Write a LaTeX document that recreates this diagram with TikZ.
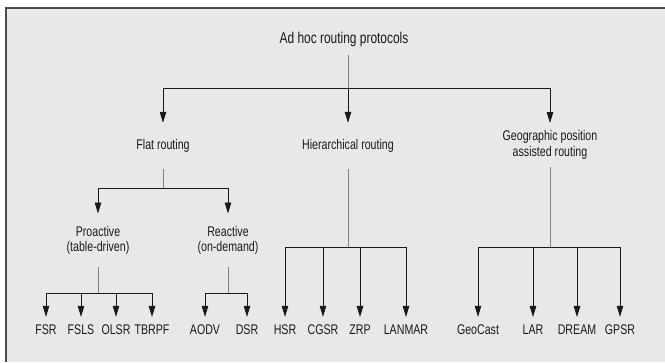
\documentclass[tikz,border=0pt]{standalone}
\usepackage{fontspec}
\setmainfont{Liberation Sans}[FakeStretch=0.76]
\usetikzlibrary{arrows.meta}

\definecolor{panel}{HTML}{E8E8E8}
\definecolor{inkgray}{HTML}{1A1A1A}

\tikzset{
  lbl/.style={font=\fontsize{14pt}{15.5pt}\selectfont, text=inkgray, align=center, inner xsep=0pt},
  toplbl/.style={lbl, font=\fontsize{15.7pt}{17pt}\selectfont, inner ysep=8pt},
  midlbl/.style={lbl, inner ysep=16.5pt},
  geolbl/.style={lbl, inner ysep=7.5pt},
  sublbl/.style={lbl, inner ysep=12.5pt},
  leaf/.style={lbl, inner ysep=8pt},
  stem/.style={draw=black!50, line width=0.8pt},
  arr/.style={draw=black!90, line width=0.8pt, -{Triangle[length=11pt,width=6.5pt]}},
}

\begin{document}
\begin{tikzpicture}[x=1pt,y=-1pt,line join=miter]
      \useasboundingbox (0,0) rectangle (665,362);
      % panel
      \fill[panel] (6,8) rectangle (665,362);
      \draw[black!70, line width=1.2pt] (6,362)--(6,8)--(665,8);

      % text
      \node[toplbl] (root) at (344,39) {Ad hoc routing protocols};
      \node[midlbl] (flat) at (163,146) {Flat routing};
      \node[midlbl] (hier) at (348,146) {Hierarchical routing};
      \node[geolbl] (geo)  at (550,145) {Geographic position\\assisted routing};
      \node[sublbl] (pro)  at ( 98,240.5) {Proactive\\(table-driven)};
      \node[sublbl] (rea)  at (228,240.5) {Reactive\\(on-demand)};
      \node[leaf] (fsr)     at ( 46,330) {FSR};
      \node[leaf] (fsls)    at ( 81,330) {FSLS};
      \node[leaf] (olsr)    at (116,330) {OLSR};
      \node[leaf] (tbrpf)   at (152,330) {TBRPF};
      \node[leaf] (aodv)    at (205,330) {AODV};
      \node[leaf] (dsr)     at (247,330) {DSR};
      \node[leaf] (hsr)     at (285,330) {HSR};
      \node[leaf] (cgsr)    at (323,330) {CGSR};
      \node[leaf] (zrp)     at (360,330) {ZRP};
      \node[leaf] (lanmar)  at (406,330) {LANMAR};
      \node[leaf] (geocast) at (478,330) {GeoCast};
      \node[leaf] (lar)     at (533,330) {LAR};
      \node[leaf] (dream)   at (577,330) {DREAM};
      \node[leaf] (gpsr)    at (620,330) {GPSR};

      % junctions
      \coordinate (jroot) at (348,88);
      \coordinate (jflat) at (163,188);
      \coordinate (jpro)  at ( 98,293);
      \coordinate (jrea)  at (228,293);
      \coordinate (jhier) at (348,247);
      \coordinate (jgeo)  at (550,247);

      % stems
      \draw[stem] (root.south -| jroot) -- (jroot);
      \draw[stem] (flat.south) -- (jflat);
      \draw[stem] (hier.south) -- (jhier);
      \draw[stem] (geo.south)  -- (jgeo);
      \draw[stem] (pro.south)  -- (jpro);
      \draw[stem] (rea.south)  -- (jrea);

      % arrows
      \draw[arr] (jroot) -| (flat.north);
      \draw[arr] (jroot) -- (hier.north);
      \draw[arr] (jroot) -| (geo.north);
      \draw[arr] (jflat) -| (pro.north);
      \draw[arr] (jflat) -| (rea.north);
      \foreach \n in {fsr,fsls,olsr,tbrpf}
        \draw[arr] (jpro) -| (\n.north);
      \foreach \n in {aodv,dsr}
        \draw[arr] (jrea) -| (\n.north);
      \foreach \n in {hsr,cgsr,zrp,lanmar}
        \draw[arr] (jhier) -| (\n.north);
      \foreach \n in {geocast,lar,dream,gpsr}
        \draw[arr] (jgeo) -| (\n.north);
\end{tikzpicture}
\end{document}
